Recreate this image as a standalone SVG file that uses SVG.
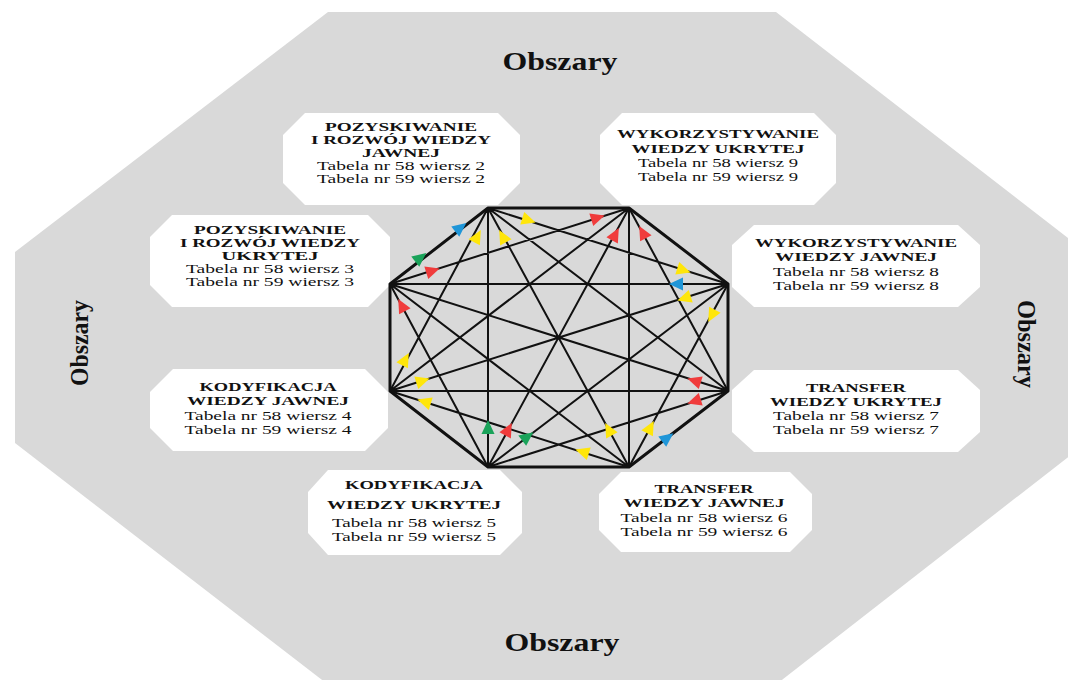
<svg xmlns="http://www.w3.org/2000/svg" width="1068" height="680" viewBox="0 0 1068 680">
<defs>
<style>
.bg{fill:#d9d9d9}
.box{fill:#ffffff}
.b{font-family:"Liberation Serif","Times New Roman",serif;font-weight:bold;font-size:13.5px;fill:#111;text-anchor:middle}
.r{font-family:"Liberation Serif","Times New Roman",serif;font-size:13.5px;fill:#111;text-anchor:middle}
.s{font-size:13px}
.t{font-family:"Liberation Serif","Times New Roman",serif;font-weight:bold;font-size:26px;fill:#111;text-anchor:middle}
.edge{stroke:#111;stroke-width:3;stroke-linejoin:round;fill:none}
.diag{stroke:#111;stroke-width:2;fill:none}
.red{fill:#f03c3c}.yel{fill:#ffe60a}.grn{fill:#1aa35a}.blu{fill:#1f96d8}
</style>
<path id="tri" d="M8,0 L-6,-6.5 L-6,6.5 Z"/>
</defs>
<rect width="1068" height="680" fill="#ffffff"/>
<polygon class="bg" points="328,12 776,12 1090,255 1090,440 778,683 326,683 15,443 15,252"/>
<text class="t" x="560" y="70" textLength="115" lengthAdjust="spacingAndGlyphs">Obszary</text>
<text class="t" x="562" y="651" textLength="115" lengthAdjust="spacingAndGlyphs">Obszary</text>
<text class="t" transform="translate(88,343) rotate(-90)" x="0" y="0" textLength="86" lengthAdjust="spacingAndGlyphs">Obszary</text>
<text class="t" transform="translate(1018,344) rotate(90)" x="0" y="0" textLength="88" lengthAdjust="spacingAndGlyphs">Obszary</text>

<g id="box1">
<polygon class="box" points="305,113 498,113 520,135 520,183 498,205 305,205 283,183 283,135"/>
<text class="b s" x="401" y="131" textLength="152" lengthAdjust="spacingAndGlyphs">POZYSKIWANIE</text>
<text class="b s" x="401" y="144" textLength="180" lengthAdjust="spacingAndGlyphs">I ROZWÓJ WIEDZY</text>
<text class="b s" x="401" y="157" textLength="78" lengthAdjust="spacingAndGlyphs">JAWNEJ</text>
<text class="r s" x="401" y="170" textLength="168" lengthAdjust="spacingAndGlyphs">Tabela nr 58 wiersz 2</text>
<text class="r s" x="401" y="183" textLength="168" lengthAdjust="spacingAndGlyphs">Tabela nr 59 wiersz 2</text>
</g>
<g id="box2">
<polygon class="box" points="172,215 368,215 390,237 390,285 368,307 172,307 150,285 150,237"/>
<text class="b s" x="270" y="234" textLength="152" lengthAdjust="spacingAndGlyphs">POZYSKIWANIE</text>
<text class="b s" x="270" y="247" textLength="180" lengthAdjust="spacingAndGlyphs">I ROZWÓJ WIEDZY</text>
<text class="b s" x="270" y="260" textLength="97" lengthAdjust="spacingAndGlyphs">UKRYTEJ</text>
<text class="r s" x="270" y="273" textLength="168" lengthAdjust="spacingAndGlyphs">Tabela nr 58 wiersz 3</text>
<text class="r s" x="270" y="286" textLength="168" lengthAdjust="spacingAndGlyphs">Tabela nr 59 wiersz 3</text>
</g>
<g id="box3">
<polygon class="box" points="622,113 814,113 836,135 836,183 814,205 622,205 600,183 600,135"/>
<text class="b" x="718" y="138" textLength="202" lengthAdjust="spacingAndGlyphs">WYKORZYSTYWANIE</text>
<text class="b" x="718" y="153" textLength="173" lengthAdjust="spacingAndGlyphs">WIEDZY UKRYTEJ</text>
<text class="r" x="718" y="167" textLength="160" lengthAdjust="spacingAndGlyphs">Tabela nr 58 wiersz 9</text>
<text class="r" x="718" y="181" textLength="160" lengthAdjust="spacingAndGlyphs">Tabela nr 59 wiersz 9</text>
</g>
<g id="box4">
<polygon class="box" points="754,225 958,225 980,245 980,287 958,307 754,307 732,287 732,245"/>
<text class="b" x="856" y="247" textLength="202" lengthAdjust="spacingAndGlyphs">WYKORZYSTYWANIE</text>
<text class="b" x="856" y="261" textLength="162" lengthAdjust="spacingAndGlyphs">WIEDZY JAWNEJ</text>
<text class="r" x="856" y="276" textLength="166" lengthAdjust="spacingAndGlyphs">Tabela nr 58 wiersz 8</text>
<text class="r" x="856" y="290" textLength="166" lengthAdjust="spacingAndGlyphs">Tabela nr 59 wiersz 8</text>
</g>
<g id="box5">
<polygon class="box" points="754,370 958,370 980,390 980,432 958,452 754,452 732,432 732,390"/>
<text class="b" x="856" y="392" textLength="100" lengthAdjust="spacingAndGlyphs">TRANSFER</text>
<text class="b" x="856" y="406" textLength="172" lengthAdjust="spacingAndGlyphs">WIEDZY UKRYTEJ</text>
<text class="r" x="856" y="420" textLength="166" lengthAdjust="spacingAndGlyphs">Tabela nr 58 wiersz 7</text>
<text class="r" x="856" y="434" textLength="166" lengthAdjust="spacingAndGlyphs">Tabela nr 59 wiersz 7</text>
</g>
<g id="box6">
<polygon class="box" points="621,472 790,472 812,494 812,530 790,552 621,552 599,530 599,494"/>
<text class="b" x="704" y="493" textLength="99" lengthAdjust="spacingAndGlyphs">TRANSFER</text>
<text class="b" x="704" y="507" textLength="161" lengthAdjust="spacingAndGlyphs">WIEDZY JAWNEJ</text>
<text class="r" x="704" y="522" textLength="167" lengthAdjust="spacingAndGlyphs">Tabela nr 58 wiersz 6</text>
<text class="r" x="704" y="536" textLength="167" lengthAdjust="spacingAndGlyphs">Tabela nr 59 wiersz 6</text>
</g>
<g id="box7">
<polygon class="box" points="328,470 500,470 522,492 522,533 500,555 328,555 308,533 308,492"/>
<text class="b" x="414" y="489" textLength="138" lengthAdjust="spacingAndGlyphs">KODYFIKACJA</text>
<text class="b" x="414" y="509" textLength="174" lengthAdjust="spacingAndGlyphs">WIEDZY UKRYTEJ</text>
<text class="r" x="414" y="527" textLength="164" lengthAdjust="spacingAndGlyphs">Tabela nr 58 wiersz 5</text>
<text class="r" x="414" y="541" textLength="164" lengthAdjust="spacingAndGlyphs">Tabela nr 59 wiersz 5</text>
</g>
<g id="box8">
<polygon class="box" points="173,369 365,369 388,392 388,428 365,451 173,451 150,428 150,392"/>
<text class="b" x="268" y="391" textLength="137" lengthAdjust="spacingAndGlyphs">KODYFIKACJA</text>
<text class="b" x="268" y="405" textLength="162" lengthAdjust="spacingAndGlyphs">WIEDZY JAWNEJ</text>
<text class="r" x="268" y="420" textLength="167" lengthAdjust="spacingAndGlyphs">Tabela nr 58 wiersz 4</text>
<text class="r" x="268" y="434" textLength="167" lengthAdjust="spacingAndGlyphs">Tabela nr 59 wiersz 4</text>
</g>

<g id="connectors">
<polygon class="edge" points="488,208 629,208 728,284 728,391 629,467 488,467 390,391 390,284"/>
<path class="diag" d="M488,208L728,284 M488,208L728,391 M488,208L629,467 M488,208L488,467 M488,208L390,391
M629,208L728,391 M629,208L629,467 M629,208L488,467 M629,208L390,391 M629,208L390,284
M728,284L629,467 M728,284L488,467 M728,284L390,391 M728,284L390,284
M728,391L488,467 M728,391L390,391 M728,391L390,284
M629,467L390,391 M629,467L390,284
M488,467L390,284"/>
<use href="#tri" class="blu" transform="translate(460,228) rotate(-37.8)"/>
<use href="#tri" class="grn" transform="translate(420,258) rotate(-37.8)"/>
<use href="#tri" class="yel" transform="translate(477,237) rotate(-61.8)"/>
<use href="#tri" class="yel" transform="translate(503,237) rotate(-118.6)"/>
<use href="#tri" class="yel" transform="translate(528,220) rotate(17.6)"/>
<use href="#tri" class="red" transform="translate(432,271) rotate(-17.6)"/>
<use href="#tri" class="red" transform="translate(402,306) rotate(-118.2)"/>
<use href="#tri" class="red" transform="translate(597,218) rotate(-17.6)"/>
<use href="#tri" class="red" transform="translate(615,235) rotate(-61.4)"/>
<use href="#tri" class="red" transform="translate(643,233) rotate(-118.4)"/>
<use href="#tri" class="yel" transform="translate(683,270) rotate(17.6)"/>
<use href="#tri" class="blu" transform="translate(677,284) rotate(180)"/>
<use href="#tri" class="yel" transform="translate(685,298) rotate(162.4)"/>
<use href="#tri" class="yel" transform="translate(712,315) rotate(118.4)"/>
<use href="#tri" class="yel" transform="translate(405,360) rotate(-61.8)"/>
<use href="#tri" class="yel" transform="translate(422,381) rotate(-17.6)"/>
<use href="#tri" class="yel" transform="translate(425,402) rotate(-162.4)"/>
<use href="#tri" class="grn" transform="translate(488,428) rotate(-90)"/>
<use href="#tri" class="red" transform="translate(508,430) rotate(-61.4)"/>
<use href="#tri" class="grn" transform="translate(527,437) rotate(-37.3)"/>
<use href="#tri" class="red" transform="translate(695,381) rotate(-162.4)"/>
<use href="#tri" class="red" transform="translate(695,401) rotate(162.4)"/>
<use href="#tri" class="yel" transform="translate(609,430) rotate(-118.6)"/>
<use href="#tri" class="yel" transform="translate(650,428) rotate(-61.6)"/>
<use href="#tri" class="blu" transform="translate(667,438) rotate(-37.5)"/>
<use href="#tri" class="yel" transform="translate(583,452) rotate(-162.4)"/>
</g>
</svg>
